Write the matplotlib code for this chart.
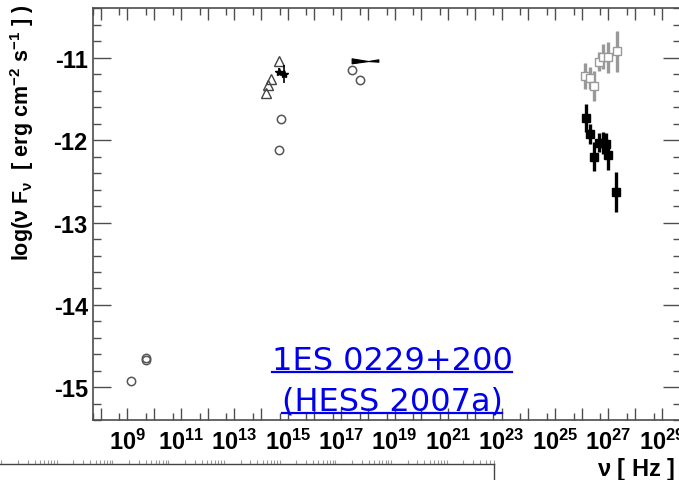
import numpy as np
import matplotlib
matplotlib.use("Agg")
import matplotlib.pyplot as plt
from matplotlib.lines import Line2D
from matplotlib.ticker import FixedLocator, FuncFormatter, MultipleLocator, NullFormatter

plt.rcParams["font.family"] = ["Liberation Sans", "DejaVu Sans"]
plt.rcParams["mathtext.fontset"] = "custom"
plt.rcParams["mathtext.rm"] = "Liberation Sans:bold"
plt.rcParams["mathtext.it"] = "Liberation Sans:bold"
plt.rcParams["mathtext.bf"] = "Liberation Sans:bold"
plt.rcParams["mathtext.default"] = "rm"

# radio
radio_lognu = [9.15, 9.71, 9.71]
radio_flux = [-14.92, -14.64, -14.67]

# optical / IR triangles
opt_lognu = [14.67, 14.38, 14.27, 14.17]
opt_flux = [-11.04, -11.26, -11.33, -11.43]

# stars with error bars
star_lognu = [14.67, 14.86]
star_flux = [-11.17, -11.20]
star_err = [0.04, 0.11]

# optical / UV circles
uv_lognu = [14.73, 14.67]
uv_flux = [-11.74, -12.12]

# X-ray circles
xr_lognu = [17.39, 17.70]
xr_flux = [-11.145, -11.27]

# X-ray bow tie
bow_lognu = [17.39, 18.01, 18.39]
bow_hi = [-11.007, -11.04, -11.019]
bow_lo = [-11.068, -11.04, -11.048]

# HESS observed
hess_lognu = [26.15, 26.31, 26.48, 26.63, 26.79, 26.91, 27.00, 27.29]
hess_flux = [-11.73, -11.93, -12.20, -12.03, -12.035, -12.045, -12.18, -12.63]
hess_err = [0.17, 0.12, 0.175, 0.12, 0.13, 0.135, 0.18, 0.245]

# HESS de-absorbed
deabs_lognu = [26.13, 26.31, 26.48, 26.63, 26.80, 26.99, 27.31]
deabs_flux = [-11.225, -11.245, -11.34, -11.046, -10.985, -10.995, -10.92]
deabs_err = [0.16, 0.13, 0.18, 0.12, 0.15, 0.19, 0.25]

title_lines = ["1ES 0229+200", "(HESS 2007a)"]

W, H = 679, 481
fig = plt.figure(figsize=(W / 100, H / 100), dpi=100)
ax = fig.add_axes([92.7 / W, 1 - 421.3 / H, (680.5 - 92.7) / W, (421.3 - 9.3) / H])

frame = "#4d4d4d"
circ = "#555555"

def nu(v):
    return 10.0 ** np.asarray(v)

ax.plot(nu(radio_lognu), radio_flux, "o", ms=6, mfc="none", mec=circ, mew=1.1)
ax.plot(nu(opt_lognu), opt_flux, "^", ms=7, mfc="none", mec="#444444", mew=1.0)
ax.errorbar(nu(star_lognu), star_flux, yerr=star_err, fmt="*", ms=6, color="black",
            ecolor="black", elinewidth=1.2, capsize=0)
ax.plot(nu(uv_lognu), uv_flux, "o", ms=6, mfc="none", mec=circ, mew=1.1)
ax.plot(nu(xr_lognu), xr_flux, "o", ms=6, mfc="none", mec=circ, mew=1.1)
ax.fill_between(nu(bow_lognu), bow_lo, bow_hi, color="black", lw=0.8)

ax.errorbar(nu(deabs_lognu), deabs_flux, yerr=deabs_err, fmt="s", ms=5.5, mfc="white",
            mec="#999999", mew=1.0, ecolor="#999999", elinewidth=2.4, capsize=0)
ax.errorbar(nu(hess_lognu), hess_flux, yerr=hess_err, fmt="s", ms=5.5, color="black",
            ecolor="black", elinewidth=2.4, capsize=0)

ax.set_xscale("log")
ax.set_xlim(5e7, 5e29)
ax.set_ylim(-15.4, -10.4)

ax.xaxis.set_major_locator(FixedLocator(nu(np.arange(8, 30))))
ax.xaxis.set_minor_locator(FixedLocator(5 * nu(np.arange(7, 30))))
ax.xaxis.set_major_formatter(FuncFormatter(
    lambda v, p: r"$10^{%d}$" % round(np.log10(v)) if round(np.log10(v)) % 2 == 1 else ""))
ax.xaxis.set_minor_formatter(NullFormatter())
ax.yaxis.set_major_locator(MultipleLocator(1))
ax.yaxis.set_minor_locator(MultipleLocator(0.2))
ax.yaxis.set_major_formatter(FuncFormatter(lambda v, p: "%d" % round(v)))

ax.tick_params(which="both", direction="in", top=True, right=True, color=frame, width=1.0)
ax.tick_params(axis="x", which="major", length=8.4, pad=6, labelsize=17)
ax.tick_params(axis="x", which="minor", length=4.8)
ax.tick_params(axis="y", which="major", length=12.7, pad=3.5, labelsize=17)
ax.tick_params(axis="y", which="minor", length=5.8)
for lab in ax.get_yticklabels():
    lab.set_fontweight("bold")
for s in ax.spines.values():
    s.set_color(frame)
    s.set_linewidth(1.2)

fig.text(22 / W, 1 - 5 / H, r"log($\nu$ F$_{\nu}$  [ erg cm$^{-2}$ s$^{-1}$ ] )",
         rotation=90, ha="center", va="top", fontsize=15.5, fontweight="bold")
fig.text(675 / W, 1 - 470 / H, r"$\nu$ [ Hz ]", ha="right", va="center",
         fontsize=17, fontweight="bold")

# blue underlined caption
blue = "#0000ee"
caps = []
for line, base in zip(title_lines, [370, 411]):
    caps.append(fig.text(392 / W, 1 - base / H, line, ha="center", va="baseline",
                         fontsize=23, color=blue, family="DejaVu Sans"))

# fragment of another plot along the bottom
ax2 = fig.add_axes([-0.02, -0.05, (494 + 13.6) / W, 0.05 + 16 / H])
ax2.set_xscale("log")
ax2.set_xlim(10 ** -0.262, 10 ** 8.851)
ax2.set_yticks([])
ax2.patch.set_alpha(0)
ax2.spines["left"].set_visible(False)
ax2.spines["bottom"].set_visible(False)
for s in ["top", "right"]:
    ax2.spines[s].set_color("#444444")
    ax2.spines[s].set_linewidth(1.0)
ax2.xaxis.tick_top()
ax2.tick_params(which="both", direction="out", length=3, width=0.8, color="#999999",
                labeltop=False, labelbottom=False)

fig.canvas.draw()
r = fig.canvas.get_renderer()
for t in caps:
    bb = t.get_window_extent(r)
    yb = t.get_position()[1] * H - 2.5
    fig.add_artist(Line2D([bb.x0 / W, bb.x1 / W], [yb / H, yb / H], color=blue, lw=1.6,
                          transform=fig.transFigure))

fig.savefig("out.png", dpi=100)
